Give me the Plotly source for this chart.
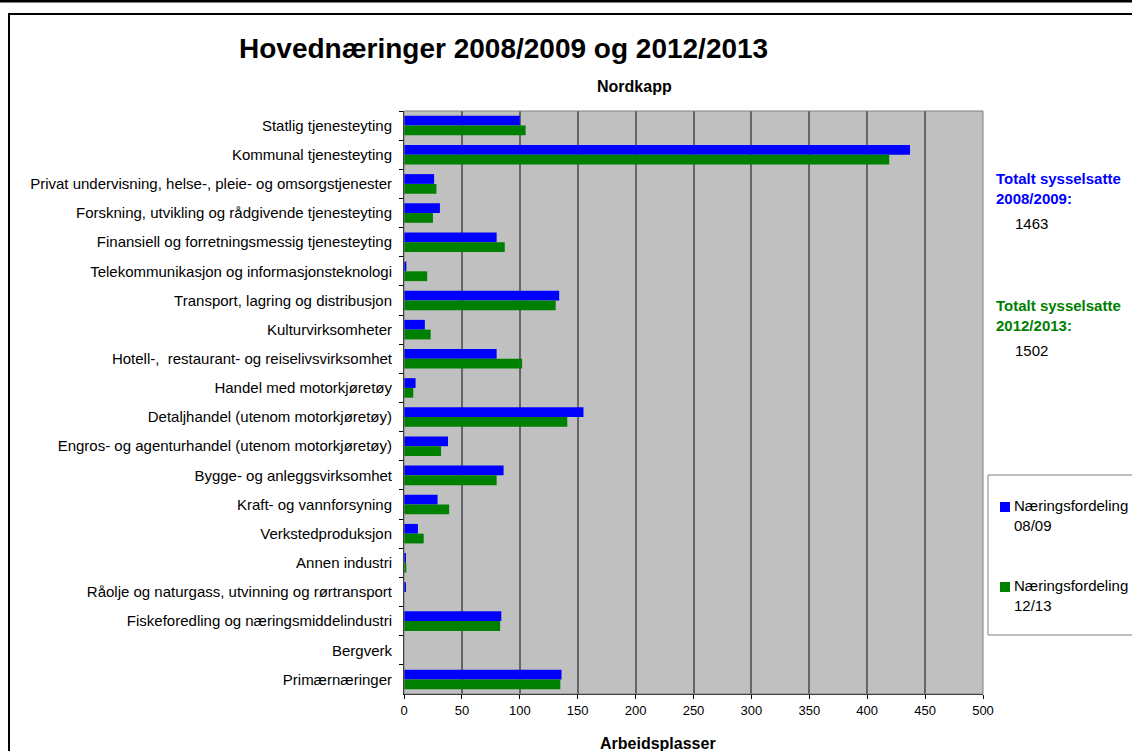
import plotly.graph_objs as go

kategorier = [
    'Statlig tjenesteyting',
    'Kommunal tjenesteyting',
    'Privat undervisning, helse-, pleie- og omsorgstjenester',
    'Forskning, utvikling og rådgivende tjenesteyting',
    'Finansiell og forretningsmessig tjenesteyting',
    'Telekommunikasjon og informasjonsteknologi',
    'Transport, lagring og distribusjon',
    'Kulturvirksomheter',
    'Hotell-,  restaurant- og reiselivsvirksomhet',
    'Handel med motorkjøretøy',
    'Detaljhandel (utenom motorkjøretøy)',
    'Engros- og agenturhandel (utenom motorkjøretøy)',
    'Bygge- og anleggsvirksomhet',
    'Kraft- og vannforsyning',
    'Verkstedproduksjon',
    'Annen industri',
    'Råolje og naturgass, utvinning og rørtransport',
    'Fiskeforedling og næringsmiddelindustri',
    'Bergverk',
    'Primærnæringer',
]
fordeling_0809 = [100, 437, 26, 31, 80, 2, 134, 18, 80, 10, 155, 38, 86, 29, 12, 1, 1, 84, 0, 136]
fordeling_1213 = [105, 419, 28, 25, 87, 20, 131, 23, 102, 8, 141, 32, 80, 39, 17, 2, 0, 83, 0, 135]
x_ticks = [0, 50, 100, 150, 200, 250, 300, 350, 400, 450, 500]
serie_navn = ['Næringsfordeling<br>08/09', 'Næringsfordeling<br>12/13']
farger = ['#0000ff', '#008000']
totalt = ['1463', '1502']

W, H = 1132, 751
L, R, T, B = 404, 983, 111, 694
FONT = 'Liberation Sans, Arial'


def px(x):
    return (x - L) / (R - L)


def py(y):
    return (B - y) / (B - T)


fig = go.Figure()
for verdier, navn, farge in zip([fordeling_0809, fordeling_1213], serie_navn, farger):
    fig.add_trace(go.Bar(
        y=kategorier, x=verdier, orientation='h',
        name=navn, marker_color=farge, marker_line_width=0,
    ))

shapes = [
    # black rule at the very top
    dict(type='rect', xref='paper', yref='paper', x0=px(-5), x1=px(W + 5), y0=py(2.5), y1=py(-5),
         fillcolor='black', line_width=0, layer='above'),
    # outer chart frame
    dict(type='rect', xref='paper', yref='paper', x0=px(9), x1=px(W + 20), y0=py(H + 20), y1=py(14),
         line=dict(color='black', width=2), fillcolor='rgba(0,0,0,0)'),
    # legend box
    dict(type='rect', xref='paper', yref='paper', x0=px(988), x1=px(W + 20), y0=py(635), y1=py(475),
         line=dict(color='#808080', width=1), fillcolor='white'),
    # plot frame
    dict(type='rect', xref='paper', yref='paper', x0=0, x1=1, y0=0, y1=1,
         line=dict(color='#808080', width=1), layer='above'),
]

annotations = [
    dict(text='<b>Hovednæringer 2008/2009 og 2012/2013</b>', x=px(503), y=py(49),
         font=dict(size=28, color='black')),
    dict(text='<b>Nordkapp</b>', x=px(634), y=py(87), font=dict(size=16, color='black')),
    dict(text='<b>Arbeidsplasser</b>', x=px(658), y=py(743), font=dict(size=16, color='black')),
]

# totals to the right of the plot
for i, (farge, tot) in enumerate(zip(farger, totalt)):
    periode = ['2008/2009:', '2012/2013:'][i]
    y0 = [188, 315][i]
    annotations.append(dict(text='<b>Totalt sysselsatte<br>' + periode + '</b>', x=px(994), y=py(y0),
                            xanchor='left', align='left', font=dict(size=15, color=farge)))
    annotations.append(dict(text=tot, x=px(1013), y=py(y0 + 35), xanchor='left',
                            font=dict(size=15, color='black')))

# hand-drawn legend
for i, (navn, farge) in enumerate(zip(serie_navn, farger)):
    ytop = [502, 582][i]
    shapes.append(dict(type='rect', xref='paper', yref='paper', x0=px(1000), x1=px(1010),
                       y0=py(ytop + 10), y1=py(ytop), fillcolor=farge, line_width=0))
    annotations.append(dict(text=navn, x=px(1012), y=py(ytop - 7), xanchor='left', yanchor='top',
                            align='left', font=dict(size=15, color='black')))

for a in annotations:
    a.update(xref='paper', yref='paper', showarrow=False)
    a.setdefault('xanchor', 'center')
    a.setdefault('yanchor', 'middle')
    a['font'].setdefault('family', FONT)

fig.update_layout(
    width=W, height=H,
    margin=dict(l=L, r=W - R, t=T, b=H - B, pad=0, autoexpand=False),
    paper_bgcolor='white',
    plot_bgcolor='#c0c0c0',
    barmode='group',
    bargap=0.33,
    bargroupgap=0,
    font=dict(family=FONT, size=13, color='black'),
    showlegend=False,
    shapes=shapes,
    annotations=annotations,
)
fig.update_xaxes(
    range=[0, 500], tickvals=x_ticks, ticks='outside', ticklen=4, tickcolor='black',
    showgrid=True, gridcolor='#666666', gridwidth=1.5,
    showline=True, linecolor='black', linewidth=1, zeroline=False,
    tickfont=dict(size=13), fixedrange=True,
)
fig.update_yaxes(
    autorange='reversed', ticks='outside', ticklen=4, tickcolor='black', tickson='boundaries',
    showline=True, linecolor='black', linewidth=1, showgrid=False,
    tickfont=dict(size=15), ticklabelstandoff=8,
)

fig.write_html("out.html", config={'displayModeBar': False},
               post_script="document.body.style.margin='0';")
